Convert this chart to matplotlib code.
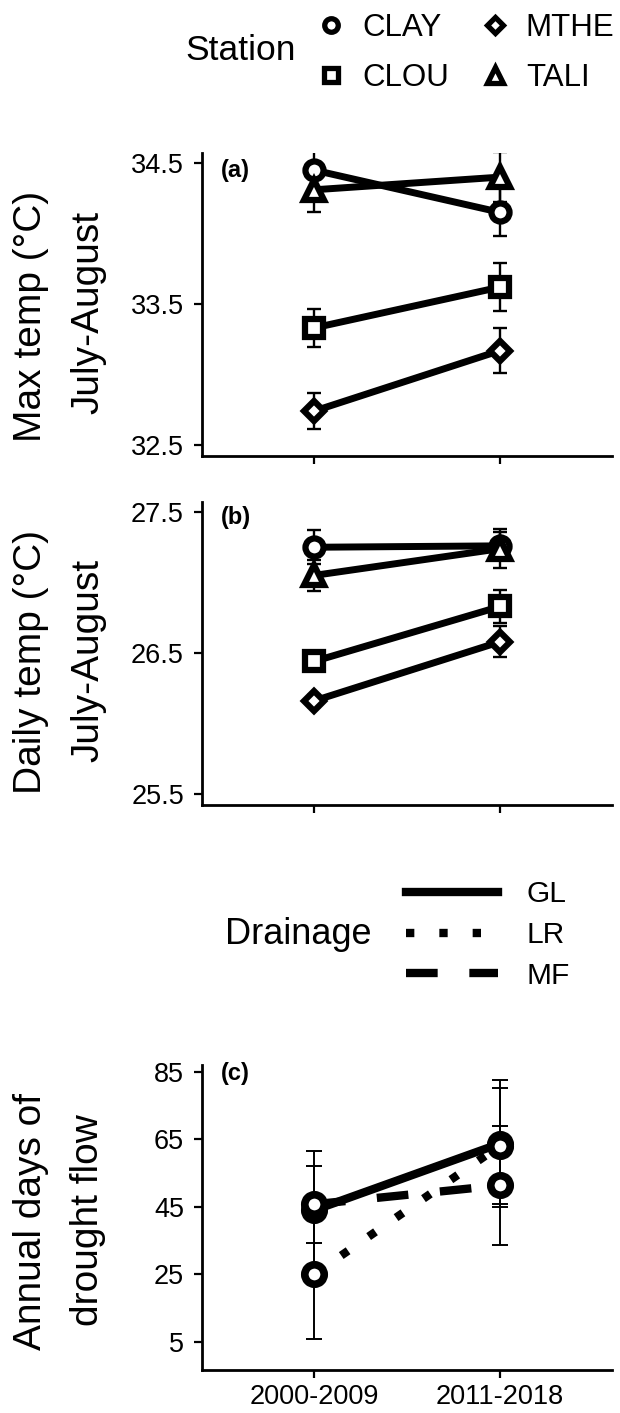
import matplotlib
matplotlib.use("Agg")
import matplotlib.pyplot as plt
from matplotlib.lines import Line2D

plt.rcParams['font.family'] = ['Liberation Sans', 'DejaVu Sans']

# data
periods = ['2000-2009', '2011-2018']
stations = ['CLAY', 'CLOU', 'MTHE', 'TALI']
station_markers = ['o', 's', 'D', '^']
station_ms = [13, 12.5, 10.5, 14.5]

# July-August max temp, mean and error per station (2000-2009, 2011-2018)
max_temp_mean = [[34.45, 34.15], [33.33, 33.62], [32.74, 33.17], [34.31, 34.40]]
max_temp_err = [[0.135, 0.17], [0.135, 0.17], [0.13, 0.16], [0.155, 0.18]]

# July-August daily temp
daily_temp_mean = [[27.25, 27.26], [26.44, 26.83], [26.16, 26.58], [27.05, 27.24]]
daily_temp_err = [[0.12, 0.10], [0.05, 0.12], [0.04, 0.11], [0.11, 0.14]]

# annual days of drought flow per drainage
drainages = ['GL', 'LR', 'MF']
drainage_styles = ['-', (0, (1, 3)), (0, (3.8, 3.8))]
drought_mean = [[44.0, 63.8], [25.0, 63.2], [45.8, 51.4]]
drought_err = [[17.5, 18.7], [19.2, 17.2], [11.4, 17.6]]

W, H = 620, 1413
fig = plt.figure(figsize=(W / 100, H / 100), dpi=100)


def fx(px):
    return px / W


def fy(px):
    return 1 - px / H


def make_ax(top, bottom):
    ax = fig.add_axes([fx(202), fy(bottom), fx(612) - fx(202), (bottom - top) / H])
    for s in ['top', 'right']:
        ax.spines[s].set_visible(False)
    for s in ['left', 'bottom']:
        ax.spines[s].set_linewidth(2)
    ax.tick_params(width=1.6, length=6, labelsize=19.5, pad=7, color='black')
    ax.set_xlim(-0.6, 1.6)
    ax.set_xticks(range(len(periods)))
    return ax


x = list(range(len(periods)))


def station_panel(ax, means, errs):
    for i, st in enumerate(stations):
        ax.plot(x, means[i], color='black', lw=5, zorder=2, solid_capstyle='butt')
        ax.errorbar(x, means[i], yerr=errs[i], fmt='none', ecolor='black',
                    elinewidth=1.7, capsize=5, capthick=1.7, zorder=3)
        ax.plot(x, means[i], ls='none', marker=station_markers[i], ms=station_ms[i],
                mfc='white', mec='black', mew=4.5, zorder=4)


# (a) max temp
ax1 = make_ax(153, 456)
station_panel(ax1, max_temp_mean, max_temp_err)
ax1.set_ylim(32.422, 34.571)
ax1.set_yticks([32.5, 33.5, 34.5])
ax1.set_yticklabels(['32.5', '33.5', '34.5'])
ax1.set_xticklabels([])
ax1.text(-0.5, 34.45, '(a)', fontsize=17, fontweight='bold', ha='left', va='center')

# (b) daily temp
ax2 = make_ax(502, 805)
station_panel(ax2, daily_temp_mean, daily_temp_err)
ax2.set_ylim(25.422, 27.571)
ax2.set_yticks([25.5, 26.5, 27.5])
ax2.set_yticklabels(['25.5', '26.5', '27.5'])
ax2.set_xticklabels([])
ax2.text(-0.5, 27.46, '(b)', fontsize=17, fontweight='bold', ha='left', va='center')

# (c) drought flow
ax3 = make_ax(1065, 1370)
for i, d in enumerate(drainages):
    ax3.plot(x, drought_mean[i], color='black', lw=6, ls=drainage_styles[i], zorder=2)
    ax3.errorbar(x, drought_mean[i], yerr=drought_err[i], fmt='none', ecolor='black',
                 elinewidth=1.4, capsize=5.5, capthick=1.4, zorder=3)
    ax3.plot(x, drought_mean[i], ls='none', marker='o', ms=14, mfc='white',
             mec='black', mew=5.5, zorder=4)
ax3.set_ylim(-3.3, 87.07)
ax3.set_yticks([5, 25, 45, 65, 85])
ax3.set_xticklabels(periods)
ax3.tick_params(axis='x', pad=4)
ax3.text(-0.5, 84.5, '(c)', fontsize=17, fontweight='bold', ha='left', va='center')

# y axis titles
lab = dict(rotation=90, ha='center', va='center', fontsize=28)
fig.text(fx(31), fy(316), 'Max temp (\u00b0C)', **lab)
fig.text(fx(88), fy(312), 'July-August', **lab)
fig.text(fx(31), fy(662), 'Daily temp (\u00b0C)', **lab)
fig.text(fx(88), fy(660), 'July-August', **lab)
fig.text(fx(31), fy(1222), 'Annual days of', **lab)
fig.text(fx(88), fy(1220), 'drought flow', **lab)

# station legend
st_handles = [Line2D([], [], ls='none', marker=m, ms=ms * 0.75, mfc='white', mec='black', mew=3.8)
              for m, ms in zip(station_markers, station_ms)]
fig.text(fx(185), fy(50), 'Station', fontsize=25.5, ha='left', va='center')
fig.legend(st_handles, stations, ncol=2, loc='center', bbox_to_anchor=(fx(465), fy(53)),
           frameon=False, fontsize=22.5, handlelength=1.0, handletextpad=0.5,
           columnspacing=0.95, labelspacing=0.65, borderpad=0)

# drainage legend
dr_handles = [Line2D([], [], color='black', lw=6, ls=s) for s in drainage_styles]
fig.text(fx(225), fy(935), 'Drainage', fontsize=26, ha='left', va='center')
fig.legend(dr_handles, drainages, loc='center', bbox_to_anchor=(fx(488), fy(935)),
           frameon=False, fontsize=21.5, handlelength=3.1, handletextpad=0.95,
           labelspacing=0.42, borderpad=0)

fig.savefig('out.png', dpi=100)
